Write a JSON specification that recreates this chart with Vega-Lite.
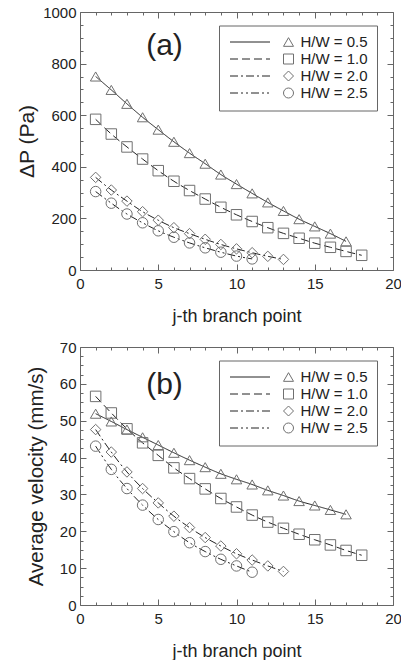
{
  "$schema": "https://vega.github.io/schema/vega-lite/v6.json",
  "padding": {"left": 16, "top": 5, "right": 0, "bottom": 0},
  "config": {
    "font": "Liberation Sans",
    "view": {"stroke": null},
    "axis": {
      "grid": false,
      "domainColor": "#666",
      "tickColor": "#666",
      "labelColor": "#222",
      "titleColor": "#222",
      "labelFontSize": 15,
      "titleFontSize": 18,
      "titleFontWeight": "normal",
      "labelFlush": false,
      "labelOverlap": false
    },
    "legend": {"labelFont": "Liberation Sans"}
  },
  "datasets": {
    "dp": [
      {"j": 1, "hw": "H/W = 0.5", "v": 750}, {"j": 2, "hw": "H/W = 0.5", "v": 698}, {"j": 3, "hw": "H/W = 0.5", "v": 644}, {"j": 4, "hw": "H/W = 0.5", "v": 592}, {"j": 5, "hw": "H/W = 0.5", "v": 544}, {"j": 6, "hw": "H/W = 0.5", "v": 497}, {"j": 7, "hw": "H/W = 0.5", "v": 453}, {"j": 8, "hw": "H/W = 0.5", "v": 412}, {"j": 9, "hw": "H/W = 0.5", "v": 370}, {"j": 10, "hw": "H/W = 0.5", "v": 333}, {"j": 11, "hw": "H/W = 0.5", "v": 297}, {"j": 12, "hw": "H/W = 0.5", "v": 262}, {"j": 13, "hw": "H/W = 0.5", "v": 229}, {"j": 14, "hw": "H/W = 0.5", "v": 197}, {"j": 15, "hw": "H/W = 0.5", "v": 169}, {"j": 16, "hw": "H/W = 0.5", "v": 141}, {"j": 17, "hw": "H/W = 0.5", "v": 111},
      {"j": 1, "hw": "H/W = 1.0", "v": 584}, {"j": 2, "hw": "H/W = 1.0", "v": 527}, {"j": 3, "hw": "H/W = 1.0", "v": 477}, {"j": 4, "hw": "H/W = 1.0", "v": 430}, {"j": 5, "hw": "H/W = 1.0", "v": 385}, {"j": 6, "hw": "H/W = 1.0", "v": 344}, {"j": 7, "hw": "H/W = 1.0", "v": 308}, {"j": 8, "hw": "H/W = 1.0", "v": 275}, {"j": 9, "hw": "H/W = 1.0", "v": 243}, {"j": 10, "hw": "H/W = 1.0", "v": 214}, {"j": 11, "hw": "H/W = 1.0", "v": 188}, {"j": 12, "hw": "H/W = 1.0", "v": 164}, {"j": 13, "hw": "H/W = 1.0", "v": 142}, {"j": 14, "hw": "H/W = 1.0", "v": 123}, {"j": 15, "hw": "H/W = 1.0", "v": 104}, {"j": 16, "hw": "H/W = 1.0", "v": 88}, {"j": 17, "hw": "H/W = 1.0", "v": 72}, {"j": 18, "hw": "H/W = 1.0", "v": 57},
      {"j": 1, "hw": "H/W = 2.0", "v": 359}, {"j": 2, "hw": "H/W = 2.0", "v": 310}, {"j": 3, "hw": "H/W = 2.0", "v": 267}, {"j": 4, "hw": "H/W = 2.0", "v": 226}, {"j": 5, "hw": "H/W = 2.0", "v": 193}, {"j": 6, "hw": "H/W = 2.0", "v": 164}, {"j": 7, "hw": "H/W = 2.0", "v": 141}, {"j": 8, "hw": "H/W = 2.0", "v": 119}, {"j": 9, "hw": "H/W = 2.0", "v": 99}, {"j": 10, "hw": "H/W = 2.0", "v": 82}, {"j": 11, "hw": "H/W = 2.0", "v": 67}, {"j": 12, "hw": "H/W = 2.0", "v": 53}, {"j": 13, "hw": "H/W = 2.0", "v": 41},
      {"j": 1, "hw": "H/W = 2.5", "v": 304}, {"j": 2, "hw": "H/W = 2.5", "v": 259}, {"j": 3, "hw": "H/W = 2.5", "v": 217}, {"j": 4, "hw": "H/W = 2.5", "v": 183}, {"j": 5, "hw": "H/W = 2.5", "v": 152}, {"j": 6, "hw": "H/W = 2.5", "v": 127}, {"j": 7, "hw": "H/W = 2.5", "v": 105}, {"j": 8, "hw": "H/W = 2.5", "v": 86}, {"j": 9, "hw": "H/W = 2.5", "v": 69}, {"j": 10, "hw": "H/W = 2.5", "v": 54}, {"j": 11, "hw": "H/W = 2.5", "v": 43}
    ],
    "vel": [
      {"j": 1, "hw": "H/W = 0.5", "v": 51.9}, {"j": 2, "hw": "H/W = 0.5", "v": 49.8}, {"j": 3, "hw": "H/W = 0.5", "v": 47.6}, {"j": 4, "hw": "H/W = 0.5", "v": 45.5}, {"j": 5, "hw": "H/W = 0.5", "v": 43.4}, {"j": 6, "hw": "H/W = 0.5", "v": 41.3}, {"j": 7, "hw": "H/W = 0.5", "v": 39.3}, {"j": 8, "hw": "H/W = 0.5", "v": 37.4}, {"j": 9, "hw": "H/W = 0.5", "v": 35.6}, {"j": 10, "hw": "H/W = 0.5", "v": 34.1}, {"j": 11, "hw": "H/W = 0.5", "v": 32.7}, {"j": 12, "hw": "H/W = 0.5", "v": 31.1}, {"j": 13, "hw": "H/W = 0.5", "v": 29.7}, {"j": 14, "hw": "H/W = 0.5", "v": 28.2}, {"j": 15, "hw": "H/W = 0.5", "v": 27.0}, {"j": 16, "hw": "H/W = 0.5", "v": 25.8}, {"j": 17, "hw": "H/W = 0.5", "v": 24.6},
      {"j": 1, "hw": "H/W = 1.0", "v": 56.6}, {"j": 2, "hw": "H/W = 1.0", "v": 52.1}, {"j": 3, "hw": "H/W = 1.0", "v": 47.8}, {"j": 4, "hw": "H/W = 1.0", "v": 44.0}, {"j": 5, "hw": "H/W = 1.0", "v": 40.6}, {"j": 6, "hw": "H/W = 1.0", "v": 37.2}, {"j": 7, "hw": "H/W = 1.0", "v": 34.3}, {"j": 8, "hw": "H/W = 1.0", "v": 31.5}, {"j": 9, "hw": "H/W = 1.0", "v": 28.9}, {"j": 10, "hw": "H/W = 1.0", "v": 26.6}, {"j": 11, "hw": "H/W = 1.0", "v": 24.4}, {"j": 12, "hw": "H/W = 1.0", "v": 22.5}, {"j": 13, "hw": "H/W = 1.0", "v": 20.8}, {"j": 14, "hw": "H/W = 1.0", "v": 19.2}, {"j": 15, "hw": "H/W = 1.0", "v": 17.7}, {"j": 16, "hw": "H/W = 1.0", "v": 16.3}, {"j": 17, "hw": "H/W = 1.0", "v": 14.8}, {"j": 18, "hw": "H/W = 1.0", "v": 13.5},
      {"j": 1, "hw": "H/W = 2.0", "v": 47.6}, {"j": 2, "hw": "H/W = 2.0", "v": 41.5}, {"j": 3, "hw": "H/W = 2.0", "v": 36.1}, {"j": 4, "hw": "H/W = 2.0", "v": 31.6}, {"j": 5, "hw": "H/W = 2.0", "v": 27.7}, {"j": 6, "hw": "H/W = 2.0", "v": 24.1}, {"j": 7, "hw": "H/W = 2.0", "v": 21.0}, {"j": 8, "hw": "H/W = 2.0", "v": 18.3}, {"j": 9, "hw": "H/W = 2.0", "v": 16.0}, {"j": 10, "hw": "H/W = 2.0", "v": 13.9}, {"j": 11, "hw": "H/W = 2.0", "v": 12.2}, {"j": 12, "hw": "H/W = 2.0", "v": 10.6}, {"j": 13, "hw": "H/W = 2.0", "v": 9.1},
      {"j": 1, "hw": "H/W = 2.5", "v": 43.1}, {"j": 2, "hw": "H/W = 2.5", "v": 36.8}, {"j": 3, "hw": "H/W = 2.5", "v": 31.6}, {"j": 4, "hw": "H/W = 2.5", "v": 27.1}, {"j": 5, "hw": "H/W = 2.5", "v": 23.2}, {"j": 6, "hw": "H/W = 2.5", "v": 19.9}, {"j": 7, "hw": "H/W = 2.5", "v": 16.9}, {"j": 8, "hw": "H/W = 2.5", "v": 14.5}, {"j": 9, "hw": "H/W = 2.5", "v": 12.4}, {"j": 10, "hw": "H/W = 2.5", "v": 10.6}, {"j": 11, "hw": "H/W = 2.5", "v": 8.9}
    ]
  },
  "spacing": 15,
  "resolve": {
    "scale": {"shape": "independent", "strokeDash": "independent", "y": "independent"},
    "legend": {"shape": "independent", "strokeDash": "independent"}
  },
  "vconcat": [
    {
      "width": 313,
      "height": 258,
      "resolve": {"axis": {"x": "independent", "y": "independent"}},
      "layer": [
        {
          "data": {"name": "dp"},
          "mark": {"type": "line", "color": "#222", "strokeWidth": 1, "interpolate": "monotone"},
          "encoding": {
            "x": {"field": "j", "type": "quantitative", "scale": {"domain": [0, 20], "nice": false},
              "axis": {"orient": "bottom", "values": [0,1,2,3,4,5,6,7,8,9,10,11,12,13,14,15,16,17,18,19,20],
                "labelExpr": "datum.value % 5 === 0 ? datum.label : ''",
                "tickSize": {"condition": {"test": "datum.value % 5 === 0", "value": -6}, "value": -3},
                "labelPadding": 12, "title": "j-th branch point", "titlePadding": 13}},
            "y": {"field": "v", "type": "quantitative", "scale": {"domain": [0, 1000], "nice": false},
              "axis": {"orient": "left", "format": "d", "values": [0,50,100,150,200,250,300,350,400,450,500,550,600,650,700,750,800,850,900,950,1000],
                "labelExpr": "datum.value % 200 === 0 ? datum.label : ''",
                "tickSize": {"condition": {"test": "datum.value % 200 === 0", "value": -6}, "value": -3},
                "labelPadding": 10, "title": "ΔP (Pa)", "titlePadding": 5, "titleFontSize": 21}},
            "detail": {"field": "hw"},
            "strokeDash": {"field": "hw", "type": "nominal",
              "scale": {"range": [[1, 0], [8, 4], [8, 3, 2, 3], [8, 3, 2, 3, 2, 3]]},
              "legend": {"orient": "none", "legendX": 139, "legendY": 13.5, "title": null,
                "symbolType": "M-4,0H4", "symbolSize": 100, "symbolOffset": 14.5,
                "symbolStrokeColor": "#222", "symbolStrokeWidth": 1,
                "labelExpr": "datum.label + '   '",
                "labelOffset": 43, "labelFontSize": 15, "labelColor": "#222",
                "rowPadding": 1, "padding": 9, "strokeColor": "#666"}}
          }
        },
        {
          "data": {"name": "dp"},
          "mark": {"type": "point", "filled": false, "stroke": "#707070", "strokeWidth": 1, "size": 110, "opacity": 1},
          "encoding": {
            "x": {"field": "j", "type": "quantitative",
              "axis": {"orient": "top", "values": [0,1,2,3,4,5,6,7,8,9,10,11,12,13,14,15,16,17,18,19,20],
                "labels": false, "title": null,
                "tickSize": {"condition": {"test": "datum.value % 5 === 0", "value": -6}, "value": -3}}},
            "y": {"field": "v", "type": "quantitative",
              "axis": {"orient": "right", "values": [0,50,100,150,200,250,300,350,400,450,500,550,600,650,700,750,800,850,900,950,1000],
                "labels": false, "title": null,
                "tickSize": {"condition": {"test": "datum.value % 200 === 0", "value": -6}, "value": -3}}},
            "shape": {"field": "hw", "type": "nominal",
              "scale": {"domain": ["H/W = 0.5", "H/W = 1.0", "H/W = 2.0", "H/W = 2.5"], "range": ["triangle-up", "square", "diamond", "circle"]},
              "legend": {"orient": "none", "legendX": 201, "legendY": 22.5, "title": null,
                "symbolSize": 100, "symbolStrokeColor": "#707070", "symbolStrokeWidth": 1, "symbolFillColor": "transparent",
                "labelExpr": "''", "labelFontSize": 15, "rowPadding": 1, "padding": 0}}
          }
        },
        {
          "data": {"values": [{}]},
          "mark": {"type": "text", "fontSize": 30, "color": "#222", "font": "Liberation Sans"},
          "encoding": {
            "x": {"datum": 5.4, "type": "quantitative", "axis": null},
            "y": {"datum": 868, "type": "quantitative", "axis": null},
            "text": {"value": "(a)"}
          }
        }
      ]
    },
    {
      "width": 313,
      "height": 258,
      "resolve": {"axis": {"x": "independent", "y": "independent"}},
      "layer": [
        {
          "data": {"name": "vel"},
          "mark": {"type": "line", "color": "#222", "strokeWidth": 1, "interpolate": "monotone"},
          "encoding": {
            "x": {"field": "j", "type": "quantitative", "scale": {"domain": [0, 20], "nice": false},
              "axis": {"orient": "bottom", "values": [0,1,2,3,4,5,6,7,8,9,10,11,12,13,14,15,16,17,18,19,20],
                "labelExpr": "datum.value % 5 === 0 ? datum.label : ''",
                "tickSize": {"condition": {"test": "datum.value % 5 === 0", "value": -6}, "value": -3},
                "labelPadding": 12, "title": "j-th branch point", "titlePadding": 13}},
            "y": {"field": "v", "type": "quantitative", "scale": {"domain": [0, 70], "nice": false},
              "axis": {"orient": "left", "values": [0,2.5,5,7.5,10,12.5,15,17.5,20,22.5,25,27.5,30,32.5,35,37.5,40,42.5,45,47.5,50,52.5,55,57.5,60,62.5,65,67.5,70],
                "labelExpr": "datum.value % 10 === 0 ? datum.label : ''",
                "tickSize": {"condition": {"test": "datum.value % 10 === 0", "value": -6}, "value": -3},
                "labelPadding": 10, "title": "Average velocity (mm/s)", "titlePadding": 13, "titleFontSize": 20.5}},
            "detail": {"field": "hw"},
            "strokeDash": {"field": "hw", "type": "nominal",
              "scale": {"range": [[1, 0], [8, 4], [8, 3, 2, 3], [8, 3, 2, 3, 2, 3]]},
              "legend": {"orient": "none", "legendX": 139, "legendY": 13.5, "title": null,
                "symbolType": "M-4,0H4", "symbolSize": 100, "symbolOffset": 14.5,
                "symbolStrokeColor": "#222", "symbolStrokeWidth": 1,
                "labelExpr": "datum.label + '   '",
                "labelOffset": 43, "labelFontSize": 15, "labelColor": "#222",
                "rowPadding": 1, "padding": 9, "strokeColor": "#666"}}
          }
        },
        {
          "data": {"name": "vel"},
          "mark": {"type": "point", "filled": false, "stroke": "#707070", "strokeWidth": 1, "size": 110, "opacity": 1},
          "encoding": {
            "x": {"field": "j", "type": "quantitative",
              "axis": {"orient": "top", "values": [0,1,2,3,4,5,6,7,8,9,10,11,12,13,14,15,16,17,18,19,20],
                "labels": false, "title": null,
                "tickSize": {"condition": {"test": "datum.value % 5 === 0", "value": -6}, "value": -3}}},
            "y": {"field": "v", "type": "quantitative",
              "axis": {"orient": "right", "values": [0,2.5,5,7.5,10,12.5,15,17.5,20,22.5,25,27.5,30,32.5,35,37.5,40,42.5,45,47.5,50,52.5,55,57.5,60,62.5,65,67.5,70],
                "labels": false, "title": null,
                "tickSize": {"condition": {"test": "datum.value % 10 === 0", "value": -6}, "value": -3}}},
            "shape": {"field": "hw", "type": "nominal",
              "scale": {"domain": ["H/W = 0.5", "H/W = 1.0", "H/W = 2.0", "H/W = 2.5"], "range": ["triangle-up", "square", "diamond", "circle"]},
              "legend": {"orient": "none", "legendX": 201, "legendY": 22.5, "title": null,
                "symbolSize": 100, "symbolStrokeColor": "#707070", "symbolStrokeWidth": 1, "symbolFillColor": "transparent",
                "labelExpr": "''", "labelFontSize": 15, "rowPadding": 1, "padding": 0}}
          }
        },
        {
          "data": {"values": [{}]},
          "mark": {"type": "text", "fontSize": 30, "color": "#222", "font": "Liberation Sans"},
          "encoding": {
            "x": {"datum": 5.4, "type": "quantitative", "axis": null},
            "y": {"datum": 59.7, "type": "quantitative", "axis": null},
            "text": {"value": "(b)"}
          }
        }
      ]
    }
  ]
}
